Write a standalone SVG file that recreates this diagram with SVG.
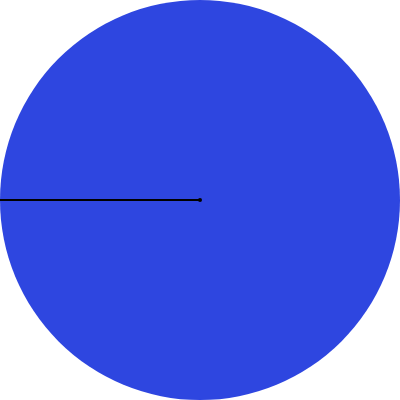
<svg xmlns="http://www.w3.org/2000/svg" width="400" height="400" viewBox="0 0 400 400">
<rect width="400" height="400" fill="#ffffff"/>
<circle cx="200" cy="200" r="200" fill="#2e46e0"/>
<g id="connectors">
<line x1="0" y1="200" x2="200" y2="200" stroke="#000000" stroke-width="2"/>
<circle cx="200" cy="200" r="2" fill="#000000"/>
</g>
</svg>
